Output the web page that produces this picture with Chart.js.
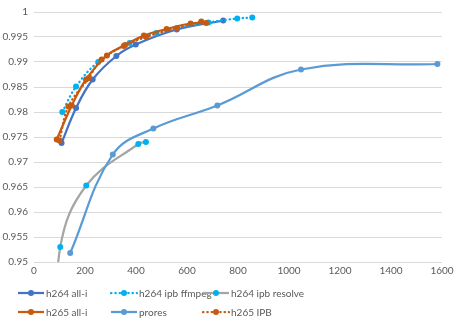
<!DOCTYPE html>
<html><head><meta charset="utf-8">
<script src="https://cdn.jsdelivr.net/npm/chart.js@4.4.1/dist/chart.umd.min.js"></script>
<style>
html,body{margin:0;padding:0;background:#fff;}
#wrap{position:relative;width:458px;height:324px;overflow:hidden;font-family:Lato,"Liberation Sans",sans-serif;}
#c{position:absolute;left:0;top:0;}
.leg{position:absolute;height:14px;font-size:10px;color:#595959;white-space:nowrap;}
.leg svg{position:absolute;left:0;top:0;}
.leg span{position:absolute;left:29px;top:0;line-height:14px;}
</style></head><body>
<div id="wrap"><canvas id="c" width="458" height="324"></canvas><div id="legend"></div></div>
<script>
// ---- data ----
const seriesNames = ["h264 all-i","h264 ipb ffmpeg","h264 ipb resolve","h265 all-i","prores","h265 IPB"];
const h264AllIBitrate = [108,165,230,323,399,560,742];
const h264AllIScore   = [0.9738,0.9808,0.9865,0.9912,0.9935,0.9965,0.9983];
const h264FfmpegBitrate = [111,165,252,375,480,684,797,856];
const h264FfmpegScore   = [0.9800,0.9851,0.9900,0.9938,0.9958,0.9979,0.9987,0.9989];
const h264ResolveBitrate = [100,103,205,409,439];
const h264ResolveScore   = [0.935,0.9530,0.9653,0.9736,0.9740];
const h265AllIBitrate = [89,148,204,286,357,431,520,614,675];
const h265AllIScore   = [0.9745,0.9813,0.9865,0.9913,0.9934,0.9953,0.9966,0.9977,0.9978];
const proresBitrate = [142,309,468,719,1047,1582];
const proresScore   = [0.9518,0.9715,0.9767,0.9813,0.9885,0.9896];
const h265IpbBitrate = [100,135,215,265,352,440,560,656];
const h265IpbScore   = [0.9743,0.9811,0.9868,0.9905,0.9932,0.9950,0.9968,0.9981];
const xTickValues = [0,200,400,600,800,1000,1200,1400,1600];
const yTickValues = [0.95,0.955,0.96,0.965,0.97,0.975,0.98,0.985,0.99,0.995,1];

// ---- styles ----
const lineColors   = ["#4472C4","#00B0F0","#A5A5A5","#C55A11","#5B9BD5","#C55A11"];
const markerColors = ["#4472C4","#00B0F0","#00B0F0","#C55A11","#5B9BD5","#C55A11"];
const dashes = [[],[0.5,3.8],[],[],[],[0.5,3.8]];

const xs = [h264AllIBitrate,h264FfmpegBitrate,h264ResolveBitrate,h265AllIBitrate,proresBitrate,h265IpbBitrate];
const ys = [h264AllIScore,h264FfmpegScore,h264ResolveScore,h265AllIScore,proresScore,h265IpbScore];

const datasets = seriesNames.map((name,i)=>({
  label:name,
  data: xs[i].map((x,j)=>({x:x,y:ys[i][j]})),
  showLine:true,
  borderColor:lineColors[i],
  backgroundColor:markerColors[i],
  pointBackgroundColor:markerColors[i],
  pointBorderColor:markerColors[i],
  pointRadius:3,
  pointBorderWidth:0,
  borderWidth:2.25,
  borderDash:dashes[i],
  borderCapStyle: dashes[i].length? 'round':'butt',
  tension:0.4,
  order:-i
}));

const fontSpec = {family:'Lato, "Liberation Sans", sans-serif', size:10};
new Chart(document.getElementById('c'),{
  type:'scatter',
  data:{datasets},
  options:{
    responsive:false,
    animation:false,
    devicePixelRatio:1,
    layout:{padding:{left:0,top:8,right:16,bottom:42}},
    plugins:{legend:{display:false},tooltip:{enabled:false}},
    scales:{
      x:{
        type:'linear',min:0,max:1600,
        afterBuildTicks:s=>{s.ticks=xTickValues.map(v=>({value:v}));},
        afterFit:s=>{s.height=20;},
        grid:{display:false,drawTicks:false},
        border:{display:false},
        ticks:{color:'#595959',font:fontSpec,padding:3,maxRotation:0,autoSkip:false,callback:v=>String(v)}
      },
      y:{
        type:'linear',min:0.95,max:1,
        afterBuildTicks:s=>{s.ticks=yTickValues.map(v=>({value:v}));},
        afterFit:s=>{s.width=34;},
        grid:{color:'#D9D9D9',lineWidth:1,drawTicks:false},
        border:{display:false},
        ticks:{color:'#595959',font:fontSpec,padding:6,autoSkip:false,callback:v=>String(+Number(v).toFixed(3))}
      }
    }
  }
});

// ---- legend ----
const legPos = [[17,286],[110,286],[202,286],[17,305],[110,305],[202,305]];
const leg = document.getElementById('legend');
seriesNames.forEach((name,i)=>{
  const d=document.createElement('div');
  d.className='leg';
  d.style.left=legPos[i][0]+'px';d.style.top=legPos[i][1]+'px';
  const dash = dashes[i].length? 'stroke-dasharray="0.5 3.8" stroke-linecap="round"':'';
  d.innerHTML='<svg width="28" height="14"><line x1="1" y1="7" x2="27" y2="7" stroke="'+lineColors[i]+'" stroke-width="2.25" '+dash+'/><circle cx="14" cy="7" r="3" fill="'+markerColors[i]+'"/></svg><span>'+name+'</span>';
  leg.appendChild(d);
});
</script>
</body></html>
